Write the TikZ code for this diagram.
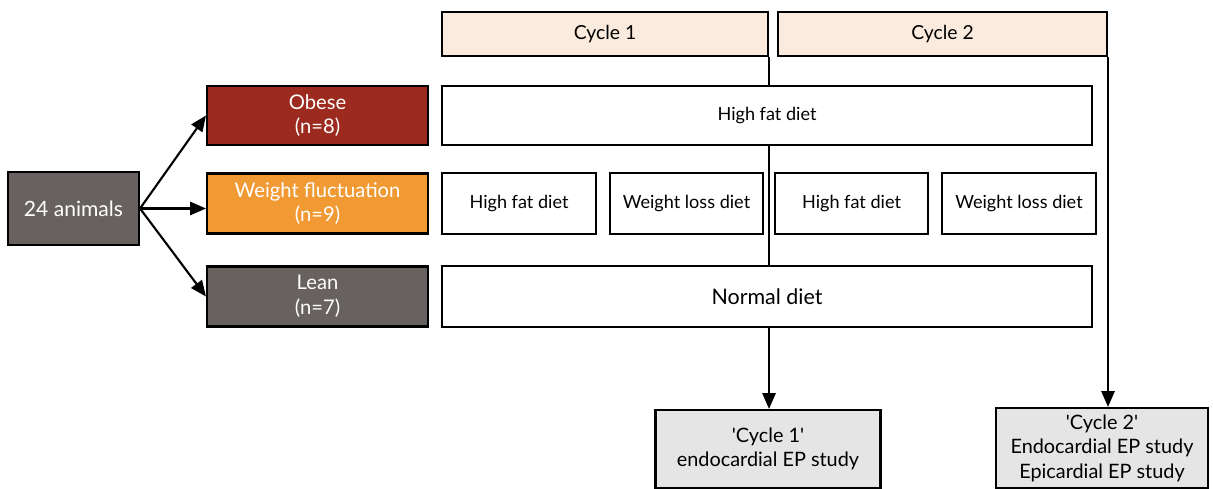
\documentclass[tikz,border=0pt]{standalone}
\usepackage{fontspec}
\setmainfont{Lato}
\usepackage{xcolor}
\usetikzlibrary{arrows.meta,positioning,calc,backgrounds}
\definecolor{obesered}{HTML}{9C2A1E}
\definecolor{fluctorange}{HTML}{F19A33}
\definecolor{leangray}{HTML}{67625F}
\definecolor{cyclefill}{HTML}{FAEBDE}
\definecolor{studyfill}{HTML}{E5E5E5}

\begin{document}
\begin{tikzpicture}[x=0.02cm,y=-0.02cm,>={Triangle[length=9pt,width=7.5pt]},
    box/.style={draw,line width=1.2pt,fill=white,inner sep=0pt,align=center,
      font=\fontsize{10.3}{14}\selectfont},
    groupbox/.style={box,text=white,minimum width=4.42cm,minimum height=1.2cm,
      font=\fontsize{11.5}{14}\selectfont},
    dietbox/.style={box,minimum height=1.22cm},
    studybox/.style={box,fill=studyfill,font=\fontsize{11.3}{14}\selectfont},
    link/.style={line width=1.2pt}]
        \useasboundingbox (0,0) rectangle (1213,489);
        % start and groups
        \node[box,fill=leangray,text=white,minimum width=2.62cm,minimum height=1.46cm,
          font=\fontsize{12}{14}\selectfont] (animals) at (73.5,208.5) {24 animals};
        \node[groupbox,fill=obesered,minimum height=1.18cm] (obese) at (317.5,115.5) {Obese\\(n=8)};
        \node[groupbox,fill=fluctorange] (fluct) at (317.5,203.5) {Weight fluctuation\\(n=9)};
        \node[groupbox,fill=leangray] (lean) at (317.5,296.5) {Lean\\(n=7)};
        % cycles
        \node[box,fill=cyclefill,minimum width=6.52cm,minimum height=0.88cm,
          font=\fontsize{11}{14}\selectfont] (cyc1) at (605,34) {Cycle 1};
        \node[box,fill=cyclefill,minimum width=6.58cm,minimum height=0.88cm,
          font=\fontsize{11}{14}\selectfont] (cyc2) at (942.5,34) {Cycle 2};
        % diets
        \node[dietbox,minimum width=13cm,minimum height=1.18cm] (hfdobese) at (767,115.5) {High fat diet};
        \node[dietbox,minimum width=3.08cm] (hfdone) at (519,203.5) {High fat diet};
        \node[dietbox,minimum width=3.06cm] (wldone) at (686.5,203.5) {Weight loss diet};
        \node[dietbox,minimum width=3.06cm] (hfdtwo) at (851.5,203.5) {High fat diet};
        \node[dietbox,minimum width=3.08cm] (wldtwo) at (1019,203.5) {Weight loss diet};
        \node[dietbox,minimum width=13cm,font=\fontsize{12.2}{14}\selectfont] (normal) at (767,296.5) {Normal diet};
        % EP studies
        \node[studybox,minimum width=4.5cm,minimum height=1.56cm] (studyone) at (768,449)
          {\textquotesingle Cycle 1\textquotesingle\\endocardial EP study};
        \node[studybox,minimum width=4.24cm,minimum height=1.6cm] (studytwo) at (1102,448)
          {\textquotesingle Cycle 2\textquotesingle\\Endocardial EP study\\Epicardial EP study};
        % connectors
        \begin{scope}[on background layer]
          \draw[link,->] (animals.east) -- (obese.west);
          \draw[link,->] (animals.east) -- (animals.east -| fluct.west);
          \draw[link,->] (animals.east) -- (lean.west);
          \draw[link,->] (cyc1.south east) -- (cyc1.south east |- studyone.north);
          \draw[link,->] (cyc2.south east) -- (cyc2.south east |- studytwo.north);
        \end{scope}
      \end{tikzpicture}
\end{document}
